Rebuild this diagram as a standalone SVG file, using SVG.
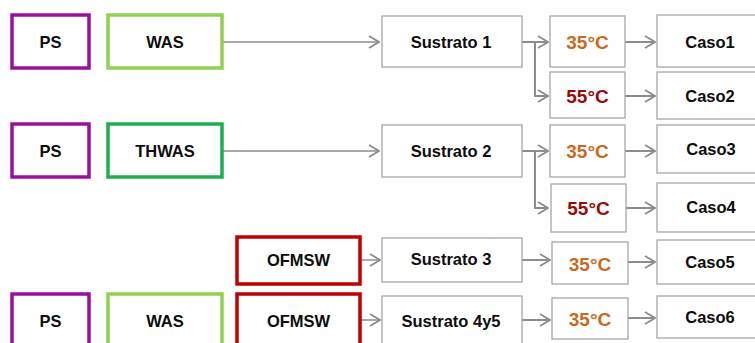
<svg xmlns="http://www.w3.org/2000/svg" width="755" height="343" viewBox="0 0 755 343">
  <style>
    text { font-family: "Liberation Sans", Arial, sans-serif; font-weight: bold; font-size: 16.5px; text-anchor: middle; dominant-baseline: central; fill: #0d0d0d; }
    .ps { fill: #fff; stroke: #9a0f9e; stroke-width: 3.5; }
    .was { fill: #fff; stroke: #92d050; stroke-width: 3.5; }
    .thwas { fill: #fff; stroke: #1fae4f; stroke-width: 3.5; }
    .of { fill: #fff; stroke: #c00000; stroke-width: 3.5; }
    .box { fill: #fff; stroke: #a6a6a6; stroke-width: 1.3; }
    .t35 { fill: #c86a1e; font-size: 19px; }
    .t55 { fill: #990a0a; font-size: 19px; }
    .wire { fill: none; stroke: #8c8c8c; stroke-width: 2; marker-end: url(#chev); }
    .thin { fill: none; stroke: #8c8c8c; stroke-width: 1.5; marker-end: url(#chev); }
  </style>
  <defs>
    <marker id="chev" viewBox="0 0 12 14" refX="11" refY="7" markerWidth="12" markerHeight="14" markerUnits="userSpaceOnUse" orient="auto">
      <path d="M1,1 L11,7 L1,13" fill="none" stroke="#8c8c8c" stroke-width="1.8"/>
    </marker>
  </defs>

  <rect width="755" height="343" fill="#fff"/>

  <!-- connectors -->
  <g id="connectors">
    <path class="thin" d="M222,42 H379"/>
    <path class="wire" d="M522,42 H548"/>
    <path class="wire" d="M535,42 V96 H548"/>
    <path class="wire" d="M625,42 H655"/>
    <path class="wire" d="M625,96 H655"/>

    <path class="thin" d="M222,151 H379"/>
    <path class="wire" d="M522,151 H548"/>
    <path class="wire" d="M535,151 V208 H548"/>
    <path class="wire" d="M625,151 H655"/>
    <path class="wire" d="M626,208 H655"/>

    <path class="thin" d="M360,260 H380"/>
    <path class="wire" d="M522,260 H550"/>
    <path class="wire" d="M628,262 H655"/>

    <path class="thin" d="M360,320 H380"/>
    <path class="wire" d="M522,320 H550"/>
    <path class="wire" d="M628,318 H655"/>
  </g>

  <!-- row 1 -->
  <g id="ps1"><rect class="ps" x="12" y="15" width="77" height="53"/><text x="50.5" y="42">PS</text></g>
  <g id="was1"><rect class="was" x="108" y="15" width="114" height="53"/><text x="165" y="42">WAS</text></g>
  <g id="sustrato1"><rect class="box" x="382" y="16" width="140" height="51"/><text x="451" y="42">Sustrato 1</text></g>
  <g id="t35a"><rect class="box" x="550" y="16" width="75" height="51"/><text class="t35" x="587.5" y="42">35°C</text></g>
  <g id="caso1"><rect class="box" x="657" y="15" width="110" height="52"/><text x="710" y="42">Caso1</text></g>
  <g id="t55a"><rect class="box" x="550" y="72" width="75" height="46"/><text class="t55" x="587.5" y="96">55°C</text></g>
  <g id="caso2"><rect class="box" x="657" y="72" width="110" height="47"/><text x="710" y="96">Caso2</text></g>

  <!-- row 2 -->
  <g id="ps2"><rect class="ps" x="12" y="124" width="77" height="53"/><text x="50.5" y="151">PS</text></g>
  <g id="thwas"><rect class="thwas" x="108" y="124" width="114" height="53"/><text x="165" y="151">THWAS</text></g>
  <g id="sustrato2"><rect class="box" x="382" y="125" width="140" height="52"/><text x="451" y="151">Sustrato 2</text></g>
  <g id="t35b"><rect class="box" x="550" y="125" width="75" height="52"/><text class="t35" x="587.5" y="151">35°C</text></g>
  <g id="caso3"><rect class="box" x="657" y="125" width="110" height="48"/><text x="711" y="149">Caso3</text></g>
  <g id="t55b"><rect class="box" x="551" y="184" width="75" height="48"/><text class="t55" x="588.5" y="208">55°C</text></g>
  <g id="caso4"><rect class="box" x="657" y="183" width="110" height="49"/><text x="711" y="207">Caso4</text></g>

  <!-- row 3 -->
  <g id="ofmsw1"><rect class="of" x="237" y="237" width="123" height="47"/><text x="298.5" y="260">OFMSW</text></g>
  <g id="sustrato3"><rect class="box" x="382" y="238" width="140" height="44"/><text x="451" y="259">Sustrato 3</text></g>
  <g id="t35c"><rect class="box" x="552" y="242" width="76" height="42"/><text class="t35" x="590" y="264">35°C</text></g>
  <g id="caso5"><rect class="box" x="657" y="240" width="110" height="44"/><text x="710" y="262">Caso5</text></g>

  <!-- row 4 -->
  <g id="ps3"><rect class="ps" x="12" y="294" width="77" height="60"/><text x="50.5" y="321">PS</text></g>
  <g id="was2"><rect class="was" x="108" y="294" width="114" height="60"/><text x="165" y="321">WAS</text></g>
  <g id="ofmsw2"><rect class="of" x="237" y="294" width="123" height="60"/><text x="298.5" y="321">OFMSW</text></g>
  <g id="sustrato45"><rect class="box" x="382" y="296" width="140" height="60"/><text x="451" y="321">Sustrato 4y5</text></g>
  <g id="t35d"><rect class="box" x="552" y="298" width="76" height="41"/><text class="t35" x="590" y="319">35°C</text></g>
  <g id="caso6"><rect class="box" x="657" y="296" width="110" height="42"/><text x="710" y="317">Caso6</text></g>
</svg>
